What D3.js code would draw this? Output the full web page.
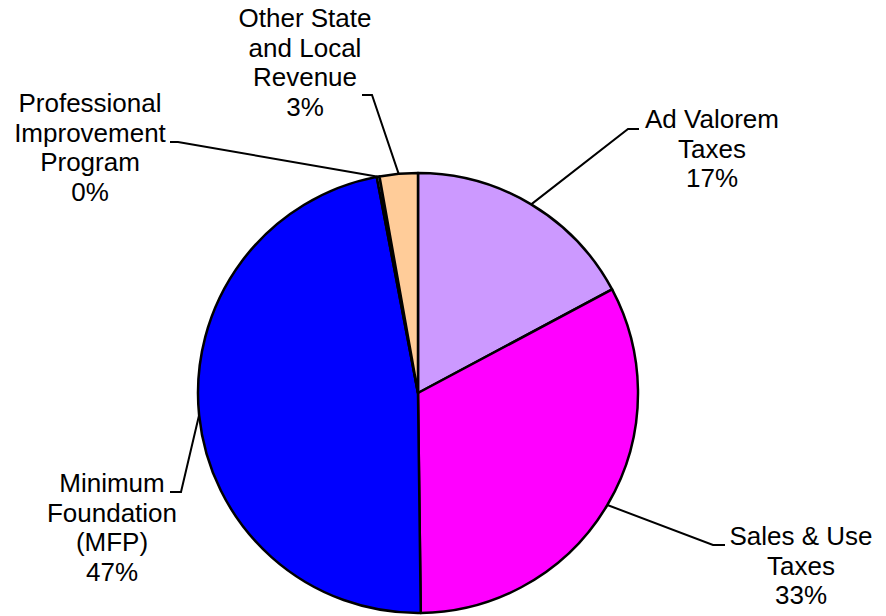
<!DOCTYPE html>
<html lang="en">
<head>
  <meta charset="UTF-8">
  <title>Revenue Sources</title>
  <script src="https://cdnjs.cloudflare.com/ajax/libs/d3/7.8.5/d3.min.js"></script>
  <style>
    body { margin: 0; background: #fff; }
    text { font-family: "Liberation Sans", Arial, sans-serif; font-size: 26px; fill: #000; }
  </style>
</head>
<body>
<svg width="886" height="616" id="canvas"></svg>
<script>
    // slice names (split into lines) and values, in clockwise order from 12 o'clock
    const categories = [
        ["Ad Valorem", "Taxes"],
        ["Sales & Use", "Taxes"],
        ["Minimum", "Foundation", "(MFP)"],
        ["Professional", "Improvement", "Program"],
        ["Other State", "and Local", "Revenue"]
    ];
    const values = [17.2, 32.6, 47.2, 0.2, 2.8];
    const colors = ["#CC99FF", "#FF00FF", "#0000FF", "#99CCFF", "#FFCC99"];

    // label block centre, first baseline, and elbow of the leader line
    const labelLayout = [
        {x: 712, y: 128, elbow: [628, 129], end: [639, 129]},
        {x: 801, y: 545, elbow: [713, 545], end: [725, 545]},
        {x: 112, y: 492, elbow: [181, 492], end: [170, 492]},
        {x: 90,  y: 112, elbow: [178, 142], end: [170, 142]},
        {x: 305, y: 27,  elbow: [372, 95],  end: [362, 95]}
    ];

    const cx = 418, cy = 393, r = 220, lineH = 29.5;
    const total = d3.sum(values);

    const svg = d3.select("#canvas");
    const g = svg.append("g").attr("transform", "translate(" + cx + "," + cy + ")");

    const pie = d3.pie().sort(null).value(d => d);
    const arc = d3.arc().innerRadius(0).outerRadius(r);
    const arcs = pie(values);

    g.selectAll("path")
        .data(arcs)
        .join("path")
        .attr("d", arc)
        .attr("fill", (d, i) => colors[i])
        .attr("stroke", "#000")
        .attr("stroke-width", 2.5)
        .attr("stroke-linejoin", "round");

    // leader lines: from mid-angle on the rim to elbow, then short horizontal
    svg.selectAll("polyline.leader")
        .data(arcs)
        .join("polyline")
        .attr("class", "leader")
        .attr("points", function(d, i) {
            const a = (d.startAngle + d.endAngle) / 2;
            const p = [cx + r * Math.sin(a), cy - r * Math.cos(a)];
            const L = labelLayout[i];
            return [p, L.elbow, L.end].map(q => q.join(",")).join(" ");
        })
        .attr("fill", "none")
        .attr("stroke", "#000")
        .attr("stroke-width", 2);

    const labels = svg.selectAll("text.lbl")
        .data(arcs)
        .join("text")
        .attr("class", "lbl")
        .attr("text-anchor", "middle")
        .attr("x", (d, i) => labelLayout[i].x)
        .attr("y", (d, i) => labelLayout[i].y);

    labels.each(function(d, i) {
        const lines = categories[i].concat([Math.round(d.value / total * 100) + "%"]);
        d3.select(this).selectAll("tspan")
            .data(lines)
            .join("tspan")
            .attr("x", labelLayout[i].x)
            .attr("dy", (t, j) => j === 0 ? 0 : lineH)
            .text(t => t);
    });
</script>
</body>
</html>
